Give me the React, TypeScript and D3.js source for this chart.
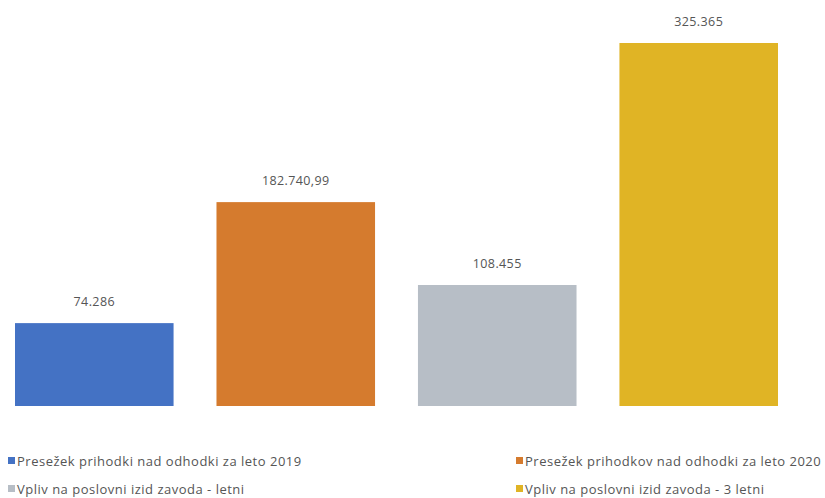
import React from "react";
import * as d3 from "d3";

const categories = [
  "Presežek prihodki nad odhodki za leto 2019",
  "Presežek prihodkov nad odhodki za leto 2020",
  "Vpliv na poslovni izid zavoda - letni",
  "Vpliv na poslovni izid zavoda - 3 letni",
];
const values = [74286, 182740.99, 108455, 325365];
const valueLabels = ["74.286", "182.740,99", "108.455", "325.365"];
const colors = ["#4472C4", "#D57B2E", "#B7BEC6", "#E0B425"];

const W = 825;
const H = 498;

export default function App() {
  const x = d3.scaleBand<number>().domain(d3.range(categories.length)).range([15, 778]).paddingInner(0.213).paddingOuter(0);
  const y = d3.scaleLinear().domain([0, 325365]).range([406, 43]);
  const legendPos = [
    { x: 8, y: 461 },
    { x: 516, y: 461 },
    { x: 8, y: 489 },
    { x: 516, y: 489 },
  ];
  return (
    <svg width={W} height={H} style={{ position: "absolute", left: 0, top: 0, background: "#fff" }} fontFamily="Open Sans, sans-serif">
      {values.map((v, i) => (
        <g key={i}>
          <rect x={x(i)} y={y(v)} width={x.bandwidth()} height={y(0) - y(v)} fill={colors[i]} />
          <text x={(x(i) as number) + x.bandwidth() / 2} y={y(v) - 17} textAnchor="middle" fontSize={12.5} letterSpacing={0.4} fill="#555">
            {valueLabels[i]}
          </text>
        </g>
      ))}
      {categories.map((c, i) => (
        <g key={c}>
          <rect x={legendPos[i].x} y={legendPos[i].y - 4} width={7} height={7} fill={colors[i]} />
          <text x={legendPos[i].x + 9} y={legendPos[i].y + 4.5} fontSize={13} letterSpacing={0.5} fill="#555">
            {c}
          </text>
        </g>
      ))}
    </svg>
  );
}
